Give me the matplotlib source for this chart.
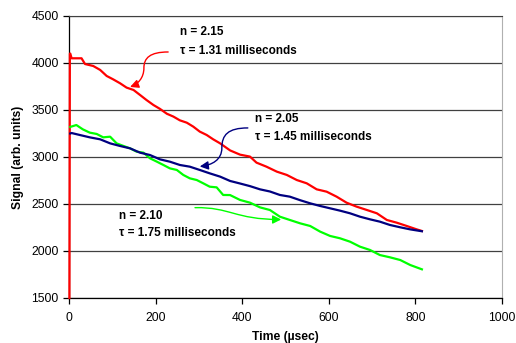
import matplotlib
matplotlib.use("Agg")
import matplotlib.pyplot as plt
from matplotlib.path import Path
from matplotlib.patches import FancyArrowPatch

plt.rcParams['font.family'] = ['Liberation Sans', 'DejaVu Sans']

# signal curves (time in usec, signal in arb. units)
red_t = [1, 2, 3, 6, 29, 37, 56, 72, 87, 102, 118, 133, 149, 164, 179, 195, 210,
         226, 241, 256, 272, 287, 302, 318, 333, 349, 372, 395, 418, 433, 456, 480,
         503, 526, 549, 572, 595, 618, 641, 664, 688, 711, 734, 757, 780, 803, 815]
red_s = [1500, 4100, 4100, 4050, 4050, 3989, 3968, 3926, 3862, 3826, 3784, 3738,
         3713, 3660, 3606, 3553, 3512, 3460, 3430, 3390, 3365, 3323, 3270, 3234,
         3188, 3145, 3070, 3025, 3004, 2940, 2897, 2844, 2809, 2755, 2720, 2656,
         2631, 2578, 2514, 2472, 2436, 2401, 2330, 2301, 2266, 2230, 2213]

navy_t = [3, 6, 25, 48, 72, 95, 118, 141, 164, 187, 210, 233, 256, 279, 302, 325,
          349, 372, 395, 418, 441, 464, 487, 510, 534, 557, 580, 603, 626, 649,
          672, 695, 718, 741, 765, 788, 815]
navy_s = [3250, 3255, 3234, 3209, 3188, 3145, 3117, 3092, 3046, 3021, 2975, 2950,
          2915, 2897, 2862, 2826, 2791, 2745, 2718, 2690, 2656, 2633, 2596, 2578,
          2540, 2507, 2479, 2454, 2429, 2401, 2365, 2337, 2312, 2277, 2252, 2230,
          2210]

green_t = [3, 17, 32, 48, 64, 79, 95, 110, 126, 141, 156, 172, 187, 203, 218, 233,
           249, 264, 279, 295, 310, 325, 341, 356, 372, 395, 418, 441, 464, 487,
           510, 534, 557, 580, 603, 626, 649, 672, 695, 718, 741, 765, 788, 815]
green_s = [3320, 3340, 3294, 3259, 3245, 3209, 3216, 3145, 3117, 3092, 3057, 3046,
           2986, 2950, 2915, 2879, 2862, 2809, 2773, 2755, 2720, 2684, 2677, 2596,
           2595, 2543, 2514, 2464, 2436, 2365, 2330, 2294, 2266, 2206, 2160, 2135,
           2099, 2046, 2011, 1957, 1933, 1904, 1851, 1805]

fig = plt.figure(figsize=(5.16, 3.43), dpi=100)
ax = fig.add_axes([0.1337, 0.1312, 0.8392, 0.8222])

ax.plot(red_t, red_s, color='#FF0000', lw=1.6, zorder=3, clip_on=False)
ax.plot(navy_t, navy_s, color='#000080', lw=1.6, zorder=4)
ax.plot(green_t, green_s, color='#00FF00', lw=1.6, zorder=3)

ax.set_xlim(0, 1000)
ax.set_ylim(1500, 4500)
ax.set_xticks(range(0, 1001, 200))
ax.set_yticks(range(1500, 4501, 500))
ax.yaxis.grid(True, color='#404040', lw=0.9)
ax.set_axisbelow(True)
ax.tick_params(direction='out', length=4, width=0.9, labelsize=8.7, colors='black')
ax.tick_params(axis='x', pad=6)
ax.spines['right'].set_color('#B0B0B0')
ax.spines['top'].set_color('#404040')
for s in ['left', 'bottom']:
    ax.spines[s].set_linewidth(0.9)

ax.set_xlabel('Time (µsec)', fontsize=8.7, fontweight='bold', labelpad=5)
ax.set_ylabel('Signal (arb. units)', fontsize=8.7, fontweight='bold', labelpad=5)

# annotations
ax.text(256, 4330, 'n = 2.15', fontsize=8.5, fontweight='bold', va='center')
ax.text(256, 4128, 'τ = 1.31 milliseconds', fontsize=8.5, fontweight='bold', va='center')
ax.text(430, 3401, 'n = 2.05', fontsize=8.5, fontweight='bold', va='center')
ax.text(430, 3209, 'τ = 1.45 milliseconds', fontsize=8.5, fontweight='bold', va='center')
ax.text(116, 2376, 'n = 2.10', fontsize=8.5, fontweight='bold', va='center')
ax.text(116, 2195, 'τ = 1.75 milliseconds', fontsize=8.5, fontweight='bold', va='center')

C4 = Path.CURVE4
arrows = [
    ([(229, 4117), (187, 4117), (173, 4053), (173, 3947),
      (173, 3840), (159, 3777), (141, 3745)],
     [Path.MOVETO, C4, C4, C4, C4, C4, C4], '#FF0000'),
    ([(413, 3309), (367, 3309), (353, 3234), (353, 3096),
      (353, 2968), (330, 2915), (302, 2899)],
     [Path.MOVETO, C4, C4, C4, C4, C4, C4], '#000080'),
    ([(291, 2461), (372, 2468), (383, 2335), (490, 2335)],
     [Path.MOVETO, C4, C4, C4], '#00FF00'),
]
for verts, codes, col in arrows:
    arr = FancyArrowPatch(path=Path(verts, codes),
                          arrowstyle='-|>,head_length=0.5,head_width=0.25',
                          mutation_scale=10, color=col, lw=1.0, zorder=5)
    ax.add_patch(arr)

fig.savefig('out.png', dpi=100)
